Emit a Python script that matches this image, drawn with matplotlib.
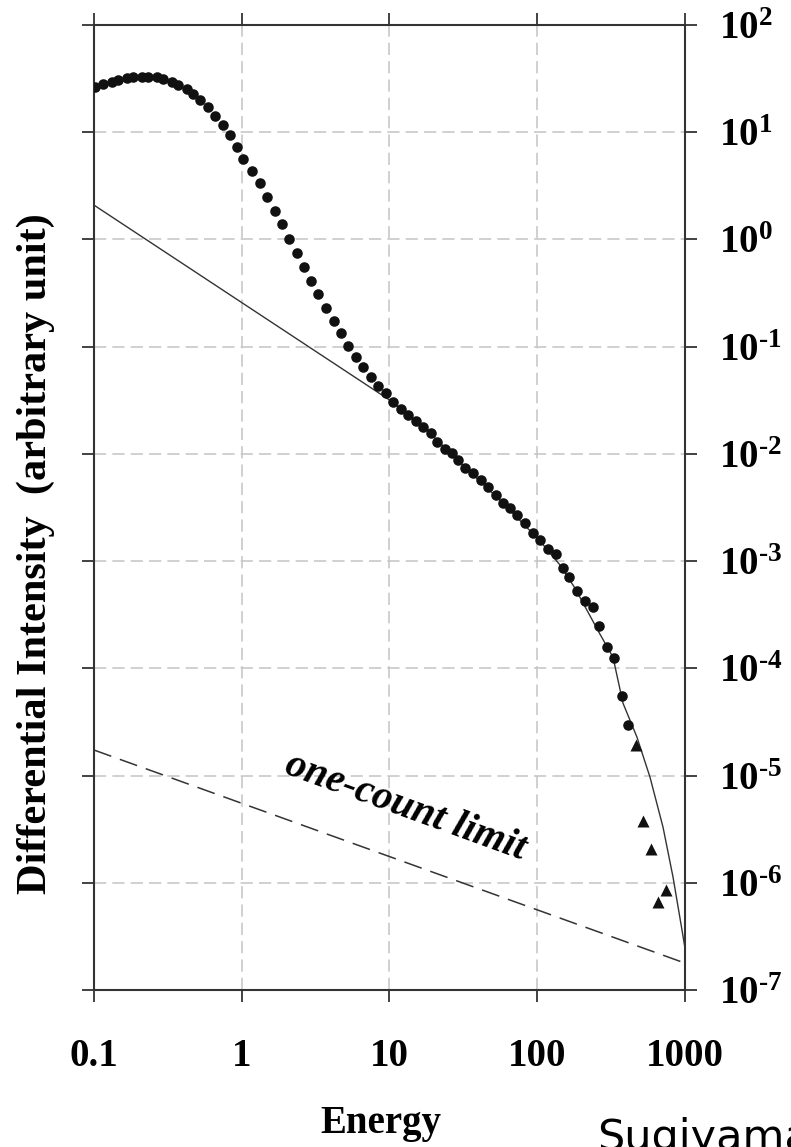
import math
import matplotlib
matplotlib.use("Agg")
from matplotlib import pyplot as plt
from matplotlib.ticker import FixedLocator, FuncFormatter, NullLocator

plt.rcParams['font.family'] = 'Liberation Serif'
plt.rcParams['mathtext.fontset'] = 'custom'
plt.rcParams['mathtext.rm'] = 'Liberation Serif:bold'
plt.rcParams['mathtext.bf'] = 'Liberation Serif:bold'

# measured spectrum (circles)
energy = [0.1016, 0.1156, 0.1318, 0.1461, 0.1665, 0.1845, 0.2103, 0.2331, 0.2657, 0.2944,
          0.3356, 0.3720, 0.4239, 0.4699, 0.5218, 0.5937, 0.6592, 0.7501, 0.8327, 0.9243,
          1.024, 1.167, 1.329, 1.475, 1.679, 1.864, 2.098, 2.354, 2.638, 2.942,
          3.297, 3.718, 4.211, 4.674, 5.263, 5.935, 6.648, 7.495, 8.400, 9.426,
          10.61, 11.91, 13.40, 15.04, 16.94, 19.01, 21.06, 23.75, 26.36, 29.22,
          32.43, 36.93, 41.44, 46.63, 52.34, 58.91, 65.40, 73.28, 82.64, 93.15,
          104.4, 118.8, 134.0, 148.7, 164.8, 186.7, 210.6, 237.3, 263.0, 295.3,
          330.7, 372.9, 413.3]
intensity = [26.2, 28.0, 29.6, 30.7, 31.8, 32.5, 33.0, 33.0, 32.5, 31.1,
             29.6, 27.5, 25.1, 22.7, 19.95, 17.1, 14.3, 11.7, 9.42, 7.33,
             5.62, 4.38, 3.33, 2.50, 1.85, 1.38, 1.02, 0.752, 0.556, 0.412,
             0.310, 0.228, 0.175, 0.133, 0.102, 0.0805, 0.0649, 0.0524, 0.0432, 0.0366,
             0.0306, 0.0265, 0.0230, 0.0202, 0.0177, 0.0155, 0.0130, 0.0112, 0.0101, 0.00875,
             0.00733, 0.00658, 0.00570, 0.00488, 0.00413, 0.00345, 0.00310, 0.00269, 0.00225, 0.00181,
             0.00157, 0.00131, 0.00116, 0.000855, 0.000705, 0.000528, 0.000424, 0.000370, 0.000248, 0.000159,
             0.000126, 5.51e-5, 2.95e-5]

# high energy points (triangles)
energy_tri = [463.8, 522.2, 586.1, 659.6, 740.2]
intensity_tri = [1.92e-5, 3.78e-6, 2.06e-6, 6.64e-7, 8.53e-7]

# model curve: power law below 10, steepening above
model_e = [0.1, 10, 18.8, 32.4, 58.6, 104.4, 142.6, 180, 220.6, 265.9, 325.6,
           380.5, 473, 579.5, 709.9, 829.6, 954.6, 1000]
model_i = [2.09, 0.0318, 0.0156, 7.53e-3, 3.48e-3, 1.54e-3, 9.18e-4, 5.6e-4, 3.34e-4, 2.08e-4, 1.27e-4,
           4.73e-5, 2.28e-5, 9.66e-6, 3.30e-6, 1.13e-6, 3.61e-7, 2.45e-7]

# one-count limit
limit_e = [0.1, 1000]
limit_i = [1.73e-5, 1.78e-7]

xticks = [0.1, 1, 10, 100, 1000]
xticklabels = ['0.1', '1', '10', '100', '1000']
yexps = [-7, -6, -5, -4, -3, -2, -1, 0, 1, 2]

fig = plt.figure(figsize=(7.91, 11.47), dpi=100)
ax = fig.add_axes([0.1188, 0.1369, 0.7472, 0.8413])
ax.set_xscale('log')
ax.set_yscale('log')
ax.set_xlim(0.1, 1000)
ax.set_ylim(1e-7, 1e2)

ax.plot(model_e, model_i, color='#333333', lw=1.0, zorder=3)
ax.plot(limit_e, limit_i, color='#333333', lw=1.1, dashes=(12, 6), zorder=3)
ax.plot(energy, intensity, 'o', color='#111111', ms=7.6, mec='none', zorder=4)
ax.plot(energy_tri, intensity_tri, '^', color='#111111', ms=8, mec='none', zorder=4)

ax.xaxis.set_major_locator(FixedLocator(xticks))
ax.xaxis.set_minor_locator(NullLocator())
ax.set_xticklabels(xticklabels, fontsize=28, fontweight='bold')
ax.yaxis.set_major_locator(FixedLocator([10.0 ** e for e in yexps]))
ax.yaxis.set_minor_locator(NullLocator())
ax.yaxis.set_major_formatter(FuncFormatter(
    lambda v, pos: r'$\mathbf{10^{\text{%d}}}$' % round(math.log10(v))))

ax.tick_params(which='major', direction='out', length=8.5, width=1.3, color='#333333',
               top=True, bottom=True, left=True, right=True,
               labelleft=False, labelright=True, labelbottom=True)
ax.tick_params(axis='x', pad=26)
ax.tick_params(axis='y', pad=16, labelsize=28)

for sp in ax.spines.values():
    sp.set_linewidth(1.5)
    sp.set_color('#333333')

ax.grid(True, color='#c4c4c4', lw=1.1, dashes=(8, 4))
ax.set_axisbelow(True)

ax.text(12.9, 5.07e-6, 'one-count limit', fontsize=29, fontweight='bold', style='italic',
        rotation=-20, rotation_mode='anchor', ha='center', va='center')

fig.text(36 / 791, 1 - 554 / 1147, 'Differential Intensity  (arbitrary unit)',
         rotation=90, ha='center', va='center', fontsize=30.5, fontweight='bold')
fig.text(381 / 791, 1 - 1124 / 1147, 'Energy', ha='center', va='center',
         fontsize=28, fontweight='bold')
fig.text(597 / 791, 1 - 1150 / 1147, 'Sugiyama', ha='left', va='baseline',
         fontsize=31, family='DejaVu Sans')

fig.savefig('out.png', dpi=100)
